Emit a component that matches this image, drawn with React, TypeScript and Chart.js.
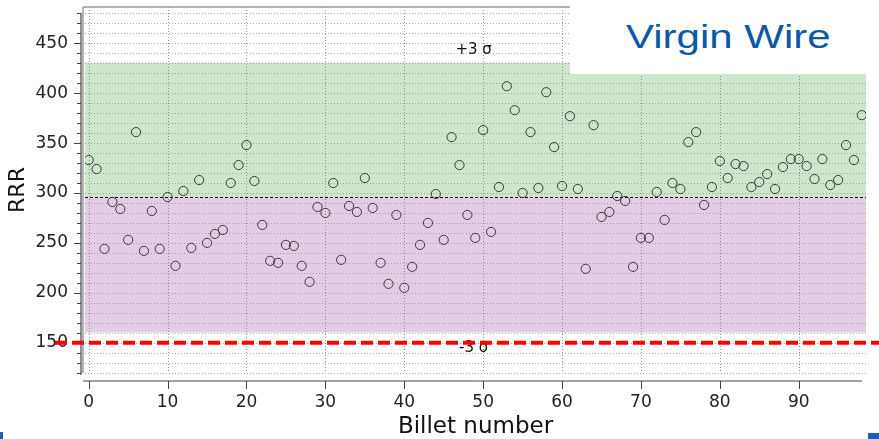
import React, { useEffect, useRef } from 'react';
import { Chart, registerables } from 'chart.js';

Chart.register(...registerables);

const billetNumbers = [
  0, 1, 2, 3, 4, 5, 6, 7, 8, 9, 10, 11, 12, 13, 14, 15, 16, 17, 18, 19,
  20, 21, 22, 23, 24, 25, 26, 27, 28, 29, 30, 31, 32, 33, 34, 35, 36, 37, 38, 39,
  40, 41, 42, 43, 44, 45, 46, 47, 48, 49, 50, 51, 52, 53, 54, 55, 56, 57, 58, 59,
  60, 61, 62, 63, 64, 65, 66, 67, 68, 69, 70, 71, 72, 73, 74, 75, 76, 77, 78, 79,
  80, 81, 82, 83, 84, 85, 86, 87, 88, 89, 90, 91, 92, 93, 94, 95, 96, 97, 98,
];

const rrrValues = [
  333, 324, 244, 291, 284, 253, 361, 242, 282, 244, 296, 227, 302, 245, 313, 250, 259, 263, 310, 328,
  348, 312, 268, 232, 230, 248, 247, 227, 211, 286, 280, 310, 233, 287, 281, 315, 285, 230, 209, 278,
  205, 226, 248, 270, 299, 253, 356, 328, 278, 255, 363, 261, 306, 407, 383, 300, 361, 305, 401, 346,
  307, 377, 304, 224, 368, 276, 281, 297, 292, 226, 255, 255, 301, 273, 310, 304, 351, 361, 288, 306,
  332, 315, 329, 327, 306, 311, 319, 304, 326, 334, 334, 327, 314, 334, 308, 313, 348, 333, 378,
];

const xTickValues = [0, 10, 20, 30, 40, 50, 60, 70, 80, 90];
const yTickValues = [150, 200, 250, 300, 350, 400, 450];
const yMinorValues = [
  120, 130, 140, 150, 160, 170, 180, 190, 200, 210, 220, 230, 240, 250, 260, 270, 280, 290, 300,
  310, 320, 330, 340, 350, 360, 370, 380, 390, 400, 410, 420, 430, 440, 450, 460, 470, 480,
];

const MEAN = 295.5;
const THREE_SIGMA = 135.3;
const UPPER = MEAN + THREE_SIGMA;
const LOWER = MEAN - THREE_SIGMA;
const SPEC_LIMIT = 150;
const SIGMA_LABEL_X = 48.8;
const upperLabel = '+3 σ';
const lowerLabel = '-3 σ';
const titleText = 'Virgin Wire';

const X_MIN = -0.47;
const X_MAX = 98.53;
const Y_MIN = 119.6;
const Y_MAX = 486.4;

const FONT = '"DejaVu Sans", sans-serif';

const overlayPlugin = {
  id: 'overlay',
  beforeDatasetsDraw(chart: any) {
    const { ctx, chartArea } = chart;
    const xs = chart.scales.x;
    const ys = chart.scales.y;
    const { left, right, top, bottom } = chartArea;
    ctx.save();
    const yU = ys.getPixelForValue(UPPER);
    const yM = ys.getPixelForValue(MEAN);
    const yL = ys.getPixelForValue(LOWER);
    ctx.fillStyle = 'rgb(205,230,204)';
    ctx.fillRect(left, yU, right - left, yM - yU);
    ctx.fillStyle = 'rgb(229,204,230)';
    ctx.fillRect(left, yM, right - left, yL - yM);

    ctx.lineWidth = 1;
    ctx.setLineDash([1, 2]);
    ctx.strokeStyle = 'rgba(140,140,140,0.75)';
    yMinorValues.forEach((v) => {
      const y = Math.round(ys.getPixelForValue(v)) + 0.5;
      ctx.beginPath();
      ctx.moveTo(left, y);
      ctx.lineTo(right, y);
      ctx.stroke();
    });
    ctx.strokeStyle = 'rgba(120,120,120,0.8)';
    xTickValues.forEach((v) => {
      const x = Math.round(xs.getPixelForValue(v)) + 0.5;
      ctx.beginPath();
      ctx.moveTo(x, top);
      ctx.lineTo(x, bottom);
      ctx.stroke();
    });

    ctx.setLineDash([3, 2]);
    ctx.strokeStyle = '#000';
    ctx.beginPath();
    ctx.moveTo(left, Math.round(yM) + 0.5);
    ctx.lineTo(right, Math.round(yM) + 0.5);
    ctx.stroke();
    ctx.setLineDash([]);

    ctx.strokeStyle = '#9a9a9a';
    ctx.lineWidth = 1.5;
    ctx.beginPath();
    ctx.moveTo(left - 2, top);
    ctx.lineTo(right, top);
    ctx.moveTo(left - 2, top);
    ctx.lineTo(left - 2, bottom);
    ctx.stroke();

    const axX = left - 4;
    ctx.strokeStyle = '#444';
    ctx.lineWidth = 1.2;
    ctx.beginPath();
    ctx.moveTo(axX, ys.getPixelForValue(480.5));
    ctx.lineTo(axX, bottom + 2);
    ctx.stroke();
    ctx.lineWidth = 1;
    yMinorValues.forEach((v) => {
      const y = Math.round(ys.getPixelForValue(v)) + 0.5;
      const major = yTickValues.includes(v);
      ctx.beginPath();
      ctx.moveTo(axX - (major ? 7 : 4), y);
      ctx.lineTo(axX, y);
      ctx.stroke();
    });

    const axY = bottom + 8;
    ctx.beginPath();
    ctx.moveTo(left - 2, axY);
    ctx.lineTo(right - 4, axY);
    ctx.stroke();
    xTickValues.forEach((v) => {
      const x = Math.round(xs.getPixelForValue(v)) + 0.5;
      ctx.beginPath();
      ctx.moveTo(x, axY);
      ctx.lineTo(x, axY + 8);
      ctx.stroke();
    });

    ctx.fillStyle = '#111';
    ctx.font = `15px ${FONT}`;
    ctx.textAlign = 'center';
    ctx.textBaseline = 'middle';
    const lx = xs.getPixelForValue(SIGMA_LABEL_X);
    ctx.fillText(upperLabel, lx, yU - 12);
    ctx.fillText(lowerLabel, lx, yL + 16);
    ctx.restore();
  },
  afterDraw(chart: any) {
    const { ctx } = chart;
    const ys = chart.scales.y;
    const y = ys.getPixelForValue(SPEC_LIMIT);
    ctx.save();
    ctx.strokeStyle = '#ff0000';
    ctx.lineWidth = 4;
    ctx.setLineDash([12, 5]);
    ctx.beginPath();
    ctx.moveTo(55, y);
    ctx.lineTo(chart.width, y);
    ctx.stroke();
    ctx.restore();
  },
};

export default function App() {
  const canvasRef = useRef<HTMLCanvasElement | null>(null);

  useEffect(() => {
    const canvas = canvasRef.current;
    if (!canvas) return;
    const points = billetNumbers.map((n, i) => ({ x: n, y: rrrValues[i] }));
    const chart = new Chart(canvas, {
      type: 'scatter',
      data: {
        datasets: [
          {
            label: 'RRR',
            data: points,
            pointStyle: 'circle',
            pointRadius: 4.6,
            pointHoverRadius: 4.6,
            borderColor: '#3a3a3a',
            borderWidth: 1,
            backgroundColor: 'rgba(0,0,0,0)',
          },
        ],
      },
      options: {
        responsive: false,
        animation: false,
        devicePixelRatio: 1,
        layout: { padding: { top: 7, right: 13, left: 0, bottom: 0 } },
        plugins: {
          legend: { display: false },
          tooltip: { enabled: false },
        },
        scales: {
          x: {
            type: 'linear',
            min: X_MIN,
            max: X_MAX,
            grid: { display: false },
            border: { display: false },
            afterBuildTicks: (scale: any) => {
              scale.ticks = xTickValues.map((v) => ({ value: v }));
            },
            afterFit: (scale: any) => {
              scale.height = 66;
              scale.paddingLeft = 0;
              scale.paddingRight = 0;
            },
            ticks: {
              color: '#222',
              font: { family: FONT, size: 17 },
              padding: 11,
              maxRotation: 0,
              autoSkip: false,
            },
            title: {
              display: true,
              text: 'Billet number',
              color: '#111',
              font: { family: FONT, size: 23, lineHeight: 1 },
              padding: { top: 0, bottom: 0 },
            },
          },
          y: {
            type: 'linear',
            min: Y_MIN,
            max: Y_MAX,
            grid: { display: false },
            border: { display: false },
            afterBuildTicks: (scale: any) => {
              scale.ticks = yTickValues.map((v) => ({ value: v }));
            },
            afterFit: (scale: any) => {
              scale.width = 85;
              scale.paddingTop = 0;
              scale.paddingBottom = 0;
            },
            ticks: {
              color: '#222',
              font: { family: FONT, size: 17 },
              padding: 9,
              autoSkip: false,
            },
            title: {
              display: true,
              text: 'RRR',
              color: '#111',
              font: { family: FONT, size: 22, lineHeight: 1.2 },
              padding: { top: 5, bottom: 0 },
            },
          },
        },
      },
      plugins: [overlayPlugin],
    });
    return () => chart.destroy();
  }, []);

  return (
    <div style={{ position: 'fixed', left: 0, top: 0, width: 879, height: 439, background: '#fff', overflow: 'hidden' }}>
      <canvas ref={canvasRef} width={879} height={439} style={{ position: 'absolute', left: 0, top: 0, width: 879, height: 439 }} />
      <div style={{ position: 'absolute', left: 570, top: 0, width: 309, height: 74, background: '#fff' }} />
      <span
        style={{
          position: 'absolute',
          left: 626,
          top: 19,
          fontFamily: '"Liberation Sans", Arial, sans-serif',
          fontSize: 34,
          lineHeight: '34px',
          color: '#0b58a6',
          whiteSpace: 'nowrap',
          transform: 'scaleX(1.235)',
          transformOrigin: 'left top',
        }}
      >
        {titleText}
      </span>
      <div style={{ position: 'absolute', left: 0, top: 432, width: 3, height: 7, background: '#1f5fb4' }} />
      <div style={{ position: 'absolute', left: 868, top: 433, width: 11, height: 6, background: '#1f5fb4' }} />
    </div>
  );
}
